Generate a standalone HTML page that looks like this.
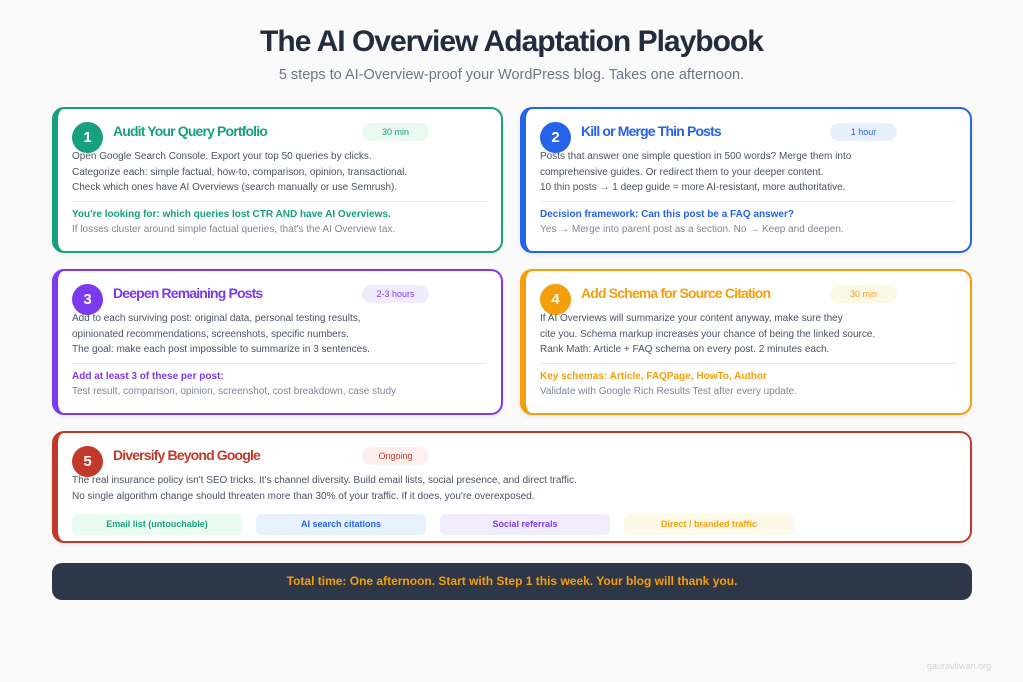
<!DOCTYPE html>
<html><head><meta charset="utf-8"><style>
*{margin:0;padding:0;box-sizing:border-box}
body{width:1023px;height:682px;background:#fafafa;font-family:"Liberation Sans",sans-serif;position:relative;overflow:hidden}
.abs{position:absolute;white-space:nowrap}
.card{position:absolute;background:#fff;border:2px solid;border-left-width:6px;border-radius:12px;box-shadow:0 2px 4px rgba(0,0,0,.06)}
.circ{position:absolute;width:31px;height:31px;border-radius:50%;color:#fff;font-weight:bold;font-size:15px;text-align:center;line-height:31px;left:14px;top:13px}
.ttl{position:absolute;left:55px;top:14px;font-size:14px;font-weight:bold;letter-spacing:-0.85px}
.badge{position:absolute;top:14px;width:67px;height:18px;border-radius:9px;font-size:9px;text-align:center;line-height:18px}
.body{position:absolute;left:14px;top:40px;font-size:10px;line-height:15.5px;color:#4a5263}
.div{position:absolute;left:14px;right:14px;top:92px;height:1px;background:#e6eaf0}
.hl{position:absolute;left:14px;top:100px;font-size:10px;font-weight:bold}
.sub{position:absolute;left:14px;top:115px;font-size:10px;color:#7f8795}
.chip{position:absolute;top:81px;width:170px;height:21px;border-radius:5px;font-size:9px;font-weight:bold;text-align:center;line-height:21px}
</style></head><body>
<div class="abs" style="left:0;width:1023px;text-align:center;top:25px;font-size:30px;font-weight:bold;color:#232c3d;letter-spacing:-1px">The AI Overview Adaptation Playbook</div>
<div class="abs" style="left:0;width:1023px;text-align:center;top:67px;font-size:14.5px;color:#6d7687">5 steps to AI-Overview-proof your WordPress blog. Takes one afternoon.</div>

<div class="card" style="left:52px;top:107px;width:451px;height:146px;border-color:#16a07e">
<div class="circ" style="background:#16a07e">1</div>
<div class="ttl" style="color:#16a07e">Audit Your Query Portfolio</div>
<div class="badge" style="left:304px;background:#e9fbf1;color:#16a07e">30 min</div>
<div class="body">Open Google Search Console. Export your top 50 queries by clicks.<br>Categorize each: simple factual, how-to, comparison, opinion, transactional.<br>Check which ones have AI Overviews (search manually or use Semrush).</div>
<div class="div"></div>
<div class="hl" style="color:#16a07e">You're looking for: which queries lost CTR AND have AI Overviews.</div>
<div class="sub">If losses cluster around simple factual queries, that's the AI Overview tax.</div>
</div>

<div class="card" style="left:520px;top:107px;width:452px;height:146px;border-color:#2563eb">
<div class="circ" style="background:#2563eb">2</div>
<div class="ttl" style="color:#2563eb">Kill or Merge Thin Posts</div>
<div class="badge" style="left:304px;background:#e8f0fe;color:#2563eb">1 hour</div>
<div class="body">Posts that answer one simple question in 500 words? Merge them into<br>comprehensive guides. Or redirect them to your deeper content.<br>10 thin posts → 1 deep guide = more AI-resistant, more authoritative.</div>
<div class="div"></div>
<div class="hl" style="color:#2563eb">Decision framework: Can this post be a FAQ answer?</div>
<div class="sub">Yes → Merge into parent post as a section. No → Keep and deepen.</div>
</div>

<div class="card" style="left:52px;top:269px;width:451px;height:146px;border-color:#7c3aed">
<div class="circ" style="background:#7c3aed">3</div>
<div class="ttl" style="color:#7c3aed">Deepen Remaining Posts</div>
<div class="badge" style="left:304px;background:#f1ecfd;color:#7c3aed">2-3 hours</div>
<div class="body">Add to each surviving post: original data, personal testing results,<br>opinionated recommendations, screenshots, specific numbers.<br>The goal: make each post impossible to summarize in 3 sentences.</div>
<div class="div"></div>
<div class="hl" style="color:#7c3aed">Add at least 3 of these per post:</div>
<div class="sub">Test result, comparison, opinion, screenshot, cost breakdown, case study</div>
</div>

<div class="card" style="left:520px;top:269px;width:452px;height:146px;border-color:#f59e0b">
<div class="circ" style="background:#f59e0b">4</div>
<div class="ttl" style="color:#f59e0b">Add Schema for Source Citation</div>
<div class="badge" style="left:304px;background:#fdf8e6;color:#f59e0b">30 min</div>
<div class="body">If AI Overviews will summarize your content anyway, make sure they<br>cite you. Schema markup increases your chance of being the linked source.<br>Rank Math: Article + FAQ schema on every post. 2 minutes each.</div>
<div class="div"></div>
<div class="hl" style="color:#f59e0b">Key schemas: Article, FAQPage, HowTo, Author</div>
<div class="sub">Validate with Google Rich Results Test after every update.</div>
</div>

<div class="card" style="left:52px;top:431px;width:920px;height:112px;border-color:#c0392b">
<div class="circ" style="background:#c0392b">5</div>
<div class="ttl" style="color:#c0392b">Diversify Beyond Google</div>
<div class="badge" style="left:304px;background:#fdefee;color:#c0392b">Ongoing</div>
<div class="body">The real insurance policy isn't SEO tricks. It's channel diversity. Build email lists, social presence, and direct traffic.<br>No single algorithm change should threaten more than 30% of your traffic. If it does, you're overexposed.</div>
<div class="chip" style="left:14px;background:#ebfbf2;color:#16a07e">Email list (untouchable)</div>
<div class="chip" style="left:198px;background:#e8f1fe;color:#2563eb">AI search citations</div>
<div class="chip" style="left:382px;background:#f1edfd;color:#7c3aed">Social referrals</div>
<div class="chip" style="left:566px;background:#fdf9e8;color:#f59e0b">Direct / branded traffic</div>
</div>

<div class="abs" style="left:52px;top:563px;width:920px;height:37px;background:#2d3748;border-radius:10px;text-align:center;line-height:37px;color:#f59e0b;font-size:12px;font-weight:bold">Total time: One afternoon. Start with Step 1 this week. Your blog will thank you.</div>
<div class="abs" style="left:927px;top:661px;font-size:9px;color:#cfd4da">gauravtiwari.org</div>
</body></html>
